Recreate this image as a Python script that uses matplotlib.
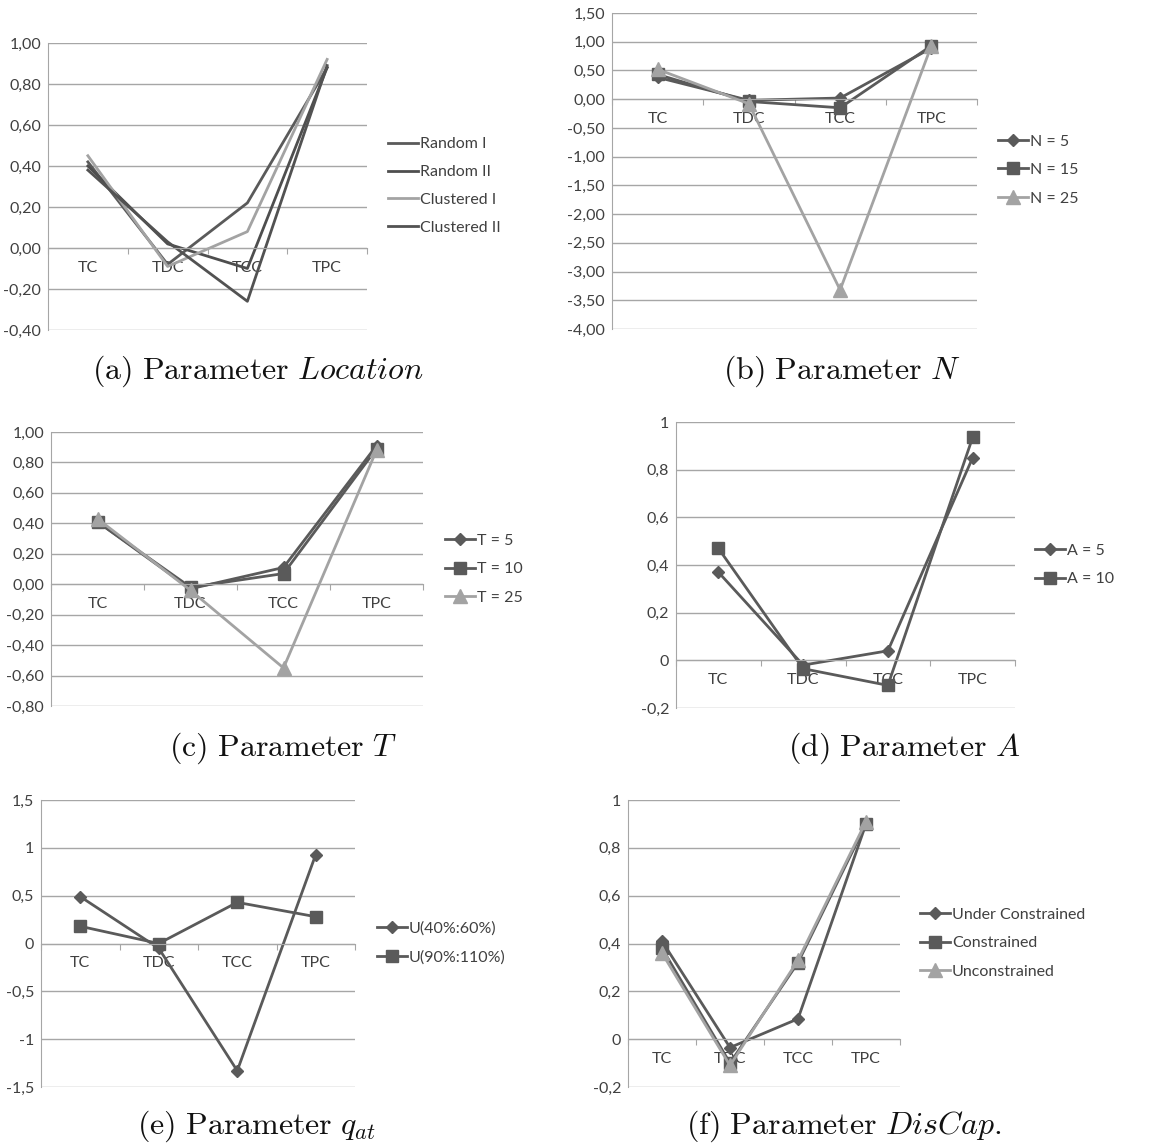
import matplotlib
matplotlib.use("Agg")
import matplotlib.pyplot as plt

plt.rcParams['mathtext.fontset'] = 'cm'
plt.rcParams['font.family'] = ['Lato', 'DejaVu Sans']

W, H = 1166, 1144

categories = ["TC", "TDC", "TCC", "TPC"]

# (a) Location
loc_names = ["Random I", "Random II", "Clustered I", "Clustered II"]
loc_random1 = [0.42, -0.08, 0.22, 0.88]
loc_random2 = [0.40, 0.02, -0.10, 0.88]
loc_clust1 = [0.45, -0.09, 0.08, 0.92]
loc_clust2 = [0.38, 0.03, -0.26, 0.89]
loc_ticks = [-0.4, -0.2, 0.0, 0.2, 0.4, 0.6, 0.8, 1.0]
loc_ticklabels = ["-0,40", "-0,20", "0,00", "0,20", "0,40", "0,60", "0,80", "1,00"]

# (b) N
n_names = ["N = 5", "N = 15", "N = 25"]
n_5 = [0.38, -0.02, 0.02, 0.89]
n_15 = [0.43, -0.04, -0.15, 0.93]
n_25 = [0.52, -0.08, -3.32, 0.93]
n_ticks = [-4.0, -3.5, -3.0, -2.5, -2.0, -1.5, -1.0, -0.5, 0.0, 0.5, 1.0, 1.5]
n_ticklabels = ["-4,00", "-3,50", "-3,00", "-2,50", "-2,00", "-1,50", "-1,00",
                "-0,50", "0,00", "0,50", "1,00", "1,50"]

# (c) T
t_names = ["T = 5", "T = 10", "T = 25"]
t_5 = [0.41, -0.03, 0.11, 0.91]
t_10 = [0.41, -0.02, 0.07, 0.89]
t_25 = [0.43, -0.04, -0.55, 0.88]
t_ticks = [-0.8, -0.6, -0.4, -0.2, 0.0, 0.2, 0.4, 0.6, 0.8, 1.0]
t_ticklabels = ["-0,80", "-0,60", "-0,40", "-0,20", "0,00", "0,20", "0,40",
                "0,60", "0,80", "1,00"]

# (d) A
a_names = ["A = 5", "A = 10"]
a_5 = [0.37, -0.02, 0.04, 0.85]
a_10 = [0.47, -0.035, -0.105, 0.935]
a_ticks = [-0.2, 0.0, 0.2, 0.4, 0.6, 0.8, 1.0]
a_ticklabels = ["-0,2", "0", "0,2", "0,4", "0,6", "0,8", "1"]

# (e) q_at
q_names = ["U(40%:60%)", "U(90%:110%)"]
q_40 = [0.49, -0.05, -1.33, 0.93]
q_90 = [0.18, 0.0, 0.43, 0.28]
q_ticks = [-1.5, -1.0, -0.5, 0.0, 0.5, 1.0, 1.5]
q_ticklabels = ["-1,5", "-1", "-0,5", "0", "0,5", "1", "1,5"]

# (f) DisCap
d_names = ["Under Constrained", "Constrained", "Unconstrained"]
d_under = [0.41, -0.035, 0.085, 0.90]
d_constr = [0.38, -0.10, 0.32, 0.90]
d_uncon = [0.36, -0.11, 0.33, 0.91]
d_ticks = [-0.2, 0.0, 0.2, 0.4, 0.6, 0.8, 1.0]
d_ticklabels = ["-0,2", "0", "0,2", "0,4", "0,6", "0,8", "1"]

DARK = "#5a5a5a"
LIGHT = "#a3a3a3"
TXT = "#404040"
GRID = "#a6a6a6"
FS = 11.5

fig = plt.figure(figsize=(W / 100, H / 100), dpi=100)


def px_axes(left, right, top, bottom):
    return fig.add_axes([left / W, 1 - bottom / H, (right - left) / W, (bottom - top) / H])


def setup(ax, ticks, ticklabels):
    x = range(len(categories))
    ax.set_xlim(-0.5, len(categories) - 0.5)
    ax.set_ylim(ticks[0], ticks[-1])
    ax.set_yticks(ticks)
    ax.set_yticklabels(ticklabels)
    ax.grid(axis='y', color=GRID, linewidth=1.0)
    ax.set_axisbelow(True)
    for s in ['top', 'right']:
        ax.spines[s].set_visible(False)
    ax.spines['left'].set_color(GRID)
    ax.spines['bottom'].set_color(GRID)
    ax.spines['bottom'].set_position(('data', 0))
    ax.tick_params(axis='y', length=0, pad=5, labelsize=FS, labelcolor=TXT)
    # tick marks between categories, labels at centres
    ax.set_xticks([i - 0.5 for i in range(len(categories) + 1)])
    ax.set_xticklabels([])
    ax.tick_params(axis='x', which='major', length=4, color=GRID, direction='out')
    ax.set_xticks(list(x), minor=True)
    ax.set_xticklabels(categories, minor=True)
    ax.tick_params(axis='x', which='minor', length=0, pad=9, labelsize=FS, labelcolor=TXT)


def draw(ax, series, names, styles):
    handles = []
    for vals, name, (color, marker, ms) in zip(series, names, styles):
        ln, = ax.plot(range(len(categories)), vals, color=color, lw=2.0,
                      marker=marker, markersize=ms, label=name, clip_on=False)
        handles.append(ln)
    return handles


def legend(handles, names, x, y, spacing=0.9):
    fig.legend(handles, names, loc='center left', bbox_to_anchor=(x / W, 1 - y / H),
               frameon=False, fontsize=FS, labelcolor=TXT, handlelength=1.9,
               handletextpad=0.1, borderpad=0, borderaxespad=0, labelspacing=spacing)


def caption(text, x, y):
    fig.text(x / W, 1 - y / H, text, ha='center', va='center', fontsize=23, color='#111111')


# (a)
ax = px_axes(48, 367, 43, 330)
setup(ax, loc_ticks, loc_ticklabels)
h = draw(ax, [loc_random1, loc_random2, loc_clust1, loc_clust2], loc_names,
         [(DARK, None, 0), ("#4e4e4e", None, 0), (LIGHT, None, 0), ("#525252", None, 0)])
legend(h, loc_names, 388, 186, spacing=0.85)
caption(r"$\mathrm{(a)\ Parameter\ }\mathit{Location}$", 258, 371)

# (b)
ax = px_axes(612, 977, 13, 329)
setup(ax, n_ticks, n_ticklabels)
h = draw(ax, [n_5, n_15, n_25], n_names,
         [(DARK, 'D', 6), (DARK, 's', 9), (LIGHT, '^', 10)])
legend(h, n_names, 998, 170)
caption(r"$\mathrm{(b)\ Parameter\ }N$", 842, 371)

# (c)
ax = px_axes(51, 423, 432, 706)
setup(ax, t_ticks, t_ticklabels)
h = draw(ax, [t_5, t_10, t_25], t_names,
         [(DARK, 'D', 6), (DARK, 's', 9), (LIGHT, '^', 10)])
legend(h, t_names, 445, 569)
caption(r"$\mathrm{(c)\ Parameter\ }T$", 283, 748)

# (d)
ax = px_axes(676, 1015, 422, 708)
setup(ax, a_ticks, a_ticklabels)
h = draw(ax, [a_5, a_10], a_names, [(DARK, 'D', 6), (DARK, 's', 9)])
legend(h, a_names, 1035, 565)
caption(r"$\mathrm{(d)\ Parameter\ }A$", 904, 748)

# (e)
ax = px_axes(41, 355, 800, 1087)
setup(ax, q_ticks, q_ticklabels)
h = draw(ax, [q_40, q_90], q_names, [(DARK, 'D', 6), (DARK, 's', 9)])
legend(h, q_names, 377, 943)
caption(r"$\mathrm{(e)\ Parameter\ }q_{at}$", 257, 1126)

# (f)
ax = px_axes(628, 900, 800, 1087)
setup(ax, d_ticks, d_ticklabels)
h = draw(ax, [d_under, d_constr, d_uncon], d_names,
         [(DARK, 'D', 6), (DARK, 's', 9), (LIGHT, '^', 10)])
legend(h, d_names, 920, 943)
caption(r"$\mathrm{(f)\ Parameter\ }DisCap\mathrm{.}$", 844, 1126)

fig.savefig("out.png", dpi=100)
